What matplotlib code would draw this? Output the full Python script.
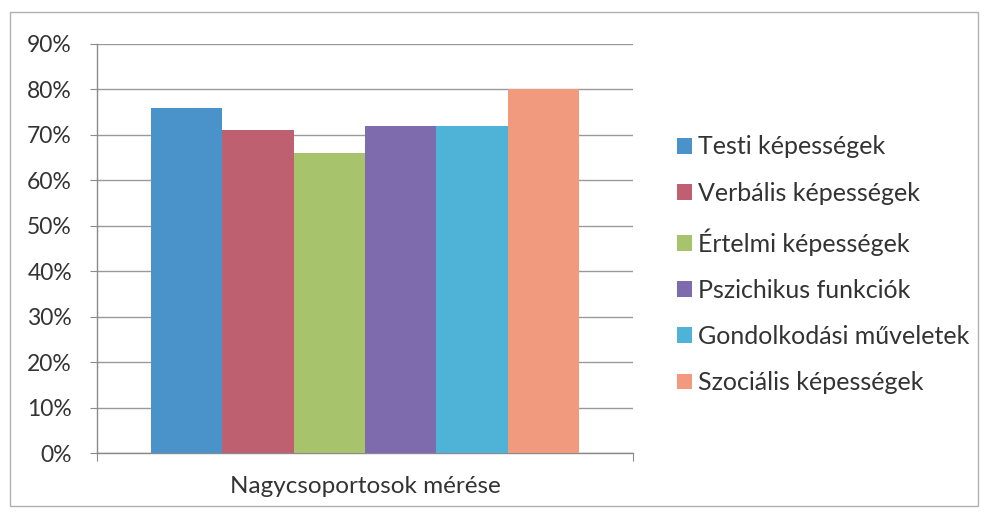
import matplotlib
matplotlib.use("Agg")
import matplotlib.pyplot as plt
from matplotlib.patches import Rectangle
from matplotlib.ticker import FuncFormatter

categories = ["Testi képességek", "Verbális képességek", "Értelmi képességek",
              "Pszichikus funkciók", "Gondolkodási műveletek", "Szociális képességek"]
values = [76, 71, 66, 72, 72, 80]
colors = ["#4A93CA", "#BF6071", "#A7C36C", "#7E6BAD", "#4FB3D8", "#F19A7D"]
group_label = "Nagycsoportosok mérése"
yticks = [0, 10, 20, 30, 40, 50, 60, 70, 80, 90]

plt.rcParams['font.family'] = ['Lato', 'DejaVu Sans']

fig = plt.figure(figsize=(9.84, 5.13), dpi=100)
W, H = 984, 513
ax = fig.add_axes([97 / W, 1 - 453 / H, (633 - 97) / W, (453 - 44) / H])

n = len(values)
group_w = 428 / 536
bw = group_w / n
start = 0.5 - group_w / 2
for i, (v, c, lab) in enumerate(zip(values, colors, categories)):
    ax.bar(start + bw * i, v, width=bw, align='edge', color=c, label=lab,
           edgecolor='none', zorder=3)

ax.set_xlim(0, 1)
ax.set_ylim(0, 90)
ax.set_yticks(yticks)
ax.yaxis.set_major_formatter(FuncFormatter(lambda v, p: f"{int(v)}%"))
ax.grid(axis='y', color='#9a9a9a', linewidth=1.0, zorder=0)
ax.set_xticks([0, 1])
ax.set_xticklabels(["", ""])
ax.tick_params(axis='y', length=5, color='#8a8a8a', labelsize=16.5, labelcolor='#333333', pad=13)
ax.tick_params(axis='x', length=6, color='#8a8a8a', direction='out')
for s in ['top', 'right']:
    ax.spines[s].set_visible(False)
for s in ['left', 'bottom']:
    ax.spines[s].set_color('#8a8a8a')
    ax.spines[s].set_linewidth(1.0)

ax.text(0.5, -0.083, group_label, transform=ax.transAxes, ha='center', va='center',
        fontsize=17.5, color='#333333')

leg = fig.legend(loc='upper left', bbox_to_anchor=(669 / W, 1 - 128 / H),
                 frameon=False, fontsize=18, handlelength=0.6, handleheight=0.6,
                 handletextpad=0.28, labelspacing=0.93, labelcolor='#333333',
                 borderaxespad=0, borderpad=0.3)

fig.patches.append(Rectangle((10 / W, 1 - 506 / H), (978 - 10) / W, (506 - 12) / H,
                             transform=fig.transFigure, fill=False,
                             edgecolor='#b0b0b0', linewidth=1.0))

fig.savefig("out.png", dpi=100)
